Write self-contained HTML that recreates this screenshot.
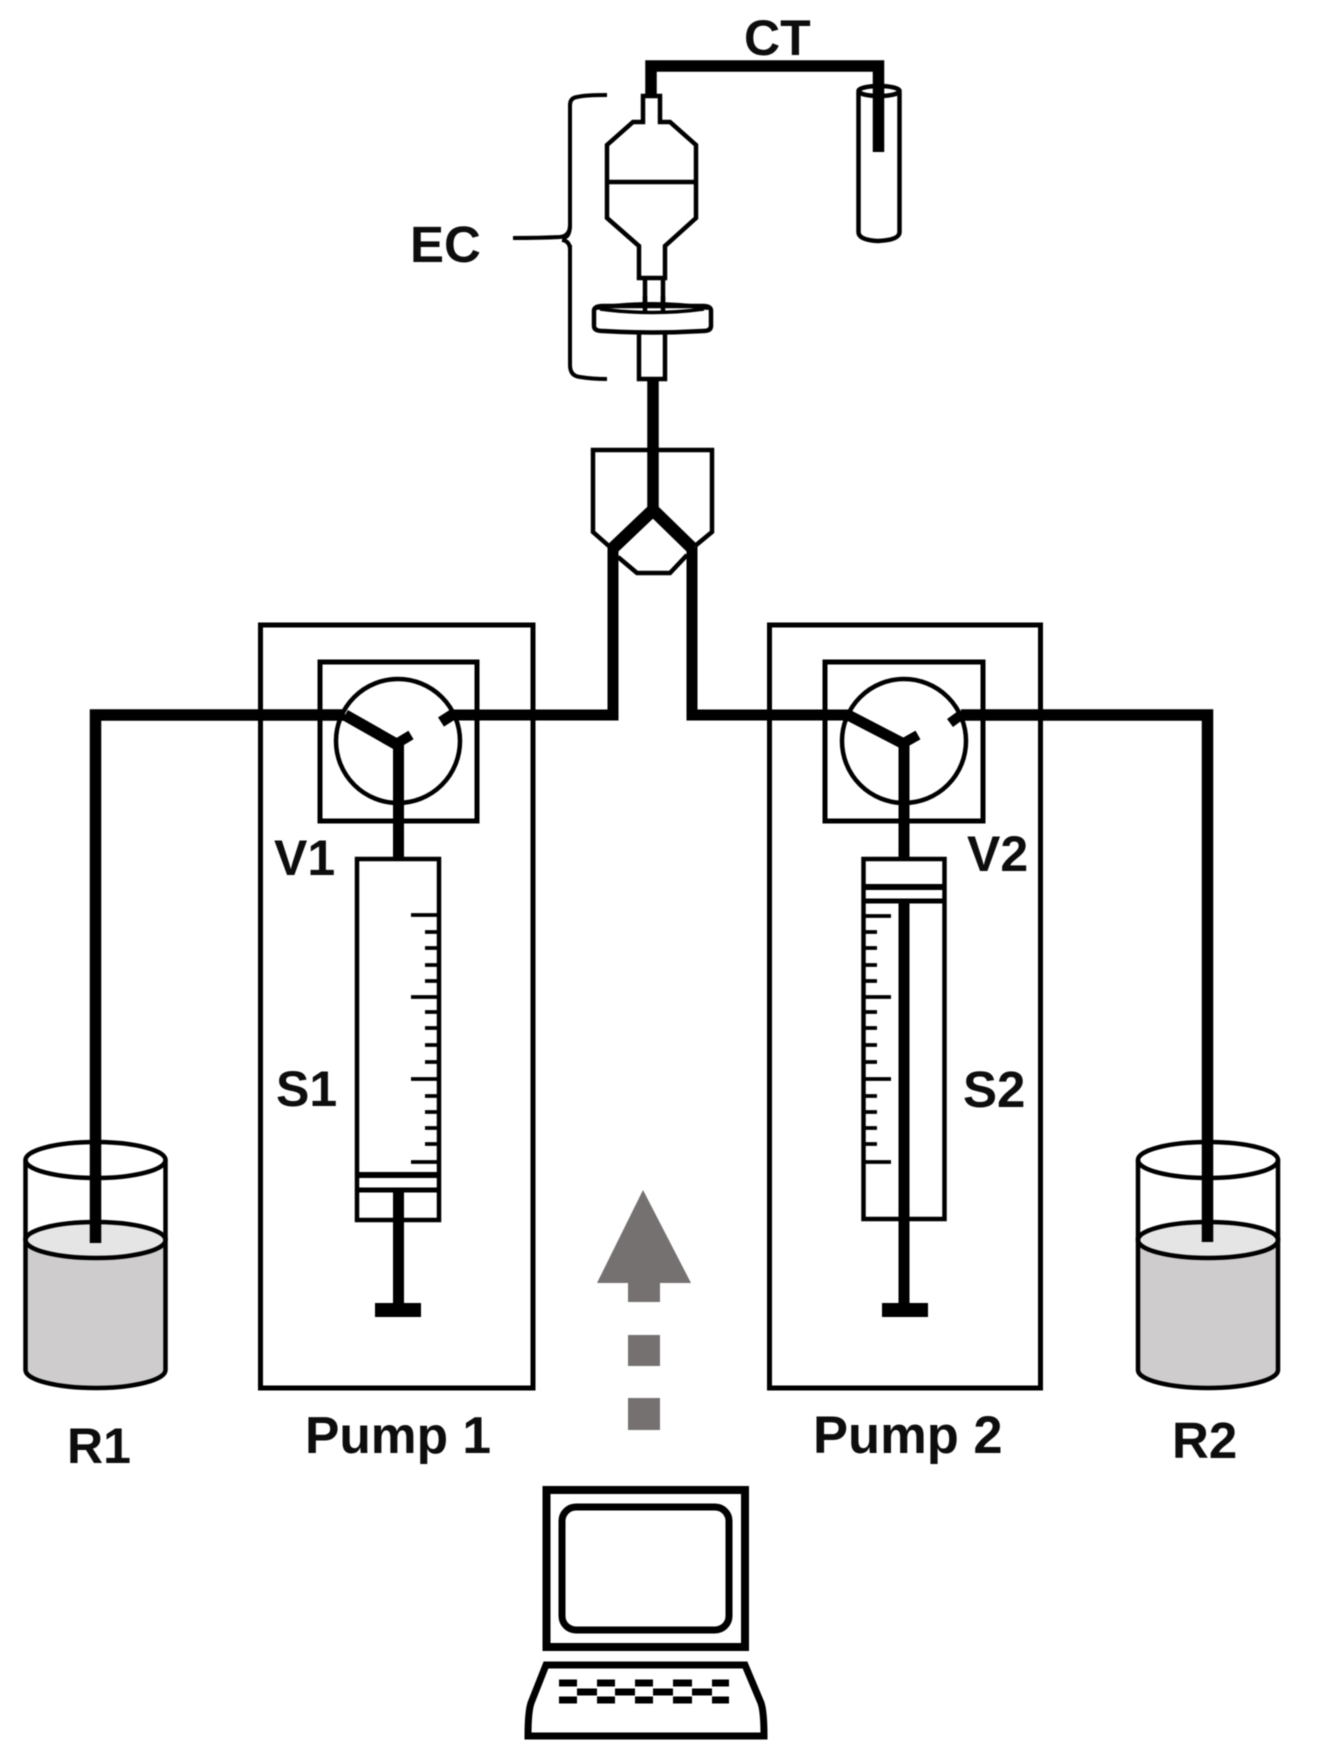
<!DOCTYPE html>
<html>
<head>
<meta charset="utf-8">
<style>
html,body{margin:0;padding:0;background:#fff;width:1318px;height:1755px;overflow:hidden}
svg{display:block;filter:blur(0.6px)}
text{font-family:"Liberation Sans",sans-serif;font-weight:bold;font-size:50px;fill:#0d0d0d}
</style>
</head>
<body>
<svg width="1318" height="1755" viewBox="0 0 1318 1755" xmlns="http://www.w3.org/2000/svg">
<rect width="1318" height="1755" fill="#fff"/>

<!-- Labels -->
<text x="744" y="55">CT</text>
<text x="410" y="262" style="font-size:51px">EC</text>
<text x="274" y="875">V1</text>
<text x="276" y="1106">S1</text>
<text x="967" y="871">V2</text>
<text x="963" y="1107" style="font-size:51px">S2</text>
<text x="305" y="1453" style="font-size:51.5px">Pump 1</text>
<text x="813" y="1453" style="font-size:52.5px">Pump 2</text>
<text x="67" y="1463">R1</text>
<text x="1172" y="1458" style="font-size:51px">R2</text>

<g fill="none" stroke="#000" stroke-width="4.5">
  <!-- vial -->
  <path d="M858.5 92 V232 Q858.5 240 878 241 Q899.5 240 899.5 232 V92"/>
  <ellipse cx="879" cy="91" rx="20.5" ry="5"/>

  <!-- capsule -->
  <path d="M643 96 H660 V122 H670 L696 145 V218 L665 246 V278 H639 V246 L607 218 V145 L633 122 H643 Z" fill="#fff"/>
  <path d="M607 182 H696"/>
  <path d="M645 278 V306 M663 278 V306"/>
  <path d="M639 333 V379 H665 V333"/>
  <path d="M594 311 Q594 306 603 306 H703 Q711 306 711 311 V326 Q711 331 703 331 Q652 334 603 331 Q594 331 594 326 Z" fill="#fff"/>
  <path d="M596 308 Q652 300 708 308" stroke-width="4"/>
  <path d="M600 309 Q652 316 704 309" stroke-width="3.5"/>
  <path d="M645 296 V311 M663 296 V311"/>

  <!-- brace -->
  <path d="M607 95 Q585 95 577 97 Q570 98 570 105 V225 Q570 236 560 237 Q540 238 513 238" stroke-width="4"/>
  <path d="M570 225 Q570 238 562 238 M570 250 Q570 241 562 240 M570 245 V365 Q570 376 580 377 Q592 379 607 379" stroke-width="4"/>

  <!-- manifold -->
  <path d="M610 547 L593 532 V450 H712 V532 L695 546"/>
  <path d="M618 557 L637 573 H670 L687 555"/>

  <!-- pump boxes -->
  <rect x="260.5" y="625" width="272.5" height="763" stroke-width="5"/>
  <rect x="769.5" y="625" width="271" height="763" stroke-width="5"/>
  <rect x="320" y="662" width="157" height="159" stroke-width="5"/>
  <rect x="825" y="662" width="158" height="159" stroke-width="5"/>
  <circle cx="398" cy="741" r="62"/>
  <circle cx="904" cy="741" r="62"/>

  <!-- syringes -->
  <rect x="357" y="859" width="82" height="361" stroke-width="4.5"/>
  <rect x="863.5" y="859" width="81" height="360" stroke-width="4.5"/>
  <path d="M357 1175 H439" stroke-width="6"/>
  <path d="M357 1190 H439" stroke-width="5"/>
  <path d="M864 887 H944" stroke-width="6"/>
  <path d="M864 901 H944" stroke-width="5"/>

  <!-- ticks syringe 1 -->
  <path stroke-width="3.8" d="M411 915H439 M425 932H439 M425 948H439 M425 965H439 M425 981H439 M411 997H439 M425 1012H439 M425 1028H439 M425 1045H439 M425 1062H439 M411 1079H439 M425 1096H439 M425 1112H439 M425 1128H439 M425 1144H439 M411 1162H439"/>
  <!-- ticks syringe 2 -->
  <path stroke-width="3.8" d="M864 916H891 M864 932H877 M864 948H877 M864 965H877 M864 981H877 M864 997H891 M864 1012H877 M864 1028H877 M864 1045H877 M864 1062H877 M864 1079H891 M864 1096H877 M864 1112H877 M864 1128H877 M864 1144H877 M864 1162H891"/>
</g>

<!-- Beaker R1 -->
<g stroke="#000" stroke-width="4.5">
  <path d="M25.5 1240 V1370 A70 18 0 0 0 165.5 1370 V1240 Z" fill="#cfcccd"/>
  <ellipse cx="95.5" cy="1240" rx="70" ry="18" fill="#e5e5e5"/>
  <path d="M25.5 1240 V1160 M165.5 1240 V1160" fill="none"/>
  <ellipse cx="95.5" cy="1160" rx="70" ry="18" fill="none"/>
</g>
<!-- Beaker R2 -->
<g stroke="#000" stroke-width="4.5">
  <path d="M1138 1240 V1370 A70 18 0 0 0 1278 1370 V1240 Z" fill="#cfcccd"/>
  <ellipse cx="1208" cy="1240" rx="70" ry="18" fill="#e5e5e5"/>
  <path d="M1138 1240 V1160 M1278 1240 V1160" fill="none"/>
  <ellipse cx="1208" cy="1160" rx="70" ry="18" fill="none"/>
</g>

<!-- Thick tubing -->
<g fill="none" stroke="#000" stroke-width="11.5" stroke-linejoin="miter">
  <path d="M651 98 V66 H878.5 V152"/>
  <path d="M653 380 V510"/>
  <path d="M612 549 L653 510 L693 549" stroke-width="12.5"/>
  <path d="M613 547 V715 H452 L441 722" stroke-width="11"/>
  <path d="M692 547 V715 H848 L902 743" stroke-width="11"/>
  <path d="M345 715 H95.5 V1243"/>
  <path d="M345 715 L396 744"/>
  <path d="M398.5 743 V857" stroke-width="11"/>
  <path d="M396 744 L411 735" stroke-width="10"/>
  <path d="M961 715 H1207.5 V1242"/>
  <path d="M961 715 L950 723" stroke-width="10"/>
  <path d="M904 743 V857" stroke-width="11"/>
  <path d="M904 901 V1310" stroke-width="11"/>
  <path d="M902 744 L918 735" stroke-width="10"/>
  <path d="M398.5 1190 V1310" stroke-width="11"/>
</g>
<rect x="375" y="1303" width="46" height="14" fill="#000"/>
<rect x="882" y="1303" width="46" height="14" fill="#000"/>

<!-- Control arrow -->
<g fill="#767171">
  <path d="M643 1190 L691 1283 H660 V1302 H628 V1283 H597 Z"/>
  <rect x="628" y="1335" width="32" height="31"/>
  <rect x="628" y="1398" width="32" height="32"/>
</g>

<!-- Laptop -->
<g fill="none" stroke="#000">
  <rect x="546.5" y="1490" width="198.5" height="157" stroke-width="8"/>
  <rect x="562" y="1507" width="167" height="123" rx="14" ry="14" stroke-width="7"/>
  <path d="M546 1665 H745 L761 1703 Q764 1712 764 1736 H528 Q528 1712 531 1703 Z" stroke-width="7"/>
  <path stroke-width="7" d="M559 1683H577 M597 1683H615 M635 1683H653 M673 1683H692 M712 1683H729 M559 1700H577 M597 1700H615 M635 1700H653 M673 1700H692 M712 1700H729 M577 1692H597 M615 1692H635 M653 1692H673 M692 1692H712"/>
</g>
</svg>
</body>
</html>
